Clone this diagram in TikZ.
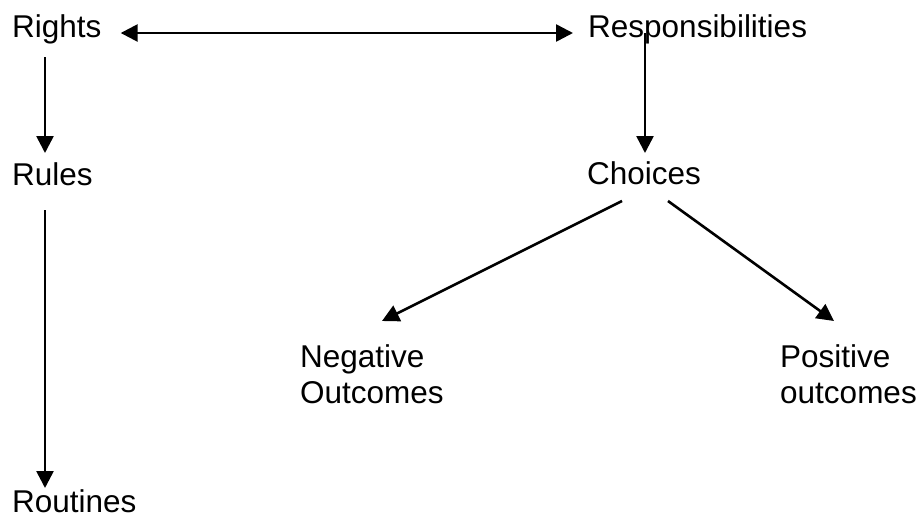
\documentclass[tikz,border=0pt]{standalone}
\usepackage{fontspec}
\setmainfont{Liberation Sans}
\usetikzlibrary{arrows.meta}

\begin{document}
\begin{tikzpicture}[x=1pt, y=-1pt,
    word/.style={anchor=base west, inner sep=0pt, align=left,
        font=\fontsize{31.5}{36}\selectfont},
    tip/.tip={Triangle[length=17pt, width=17pt]},
    arr/.style={line width=2.6pt, -tip},
    arrboth/.style={line width=2.6pt, tip-tip}]
    \useasboundingbox (0,0) rectangle (919,520);

    % 左列
    \node[word] (rights) at (12,37) {Rights};
    \node[word] (rules) at (12,185) {Rules};
    \node[word] (routines) at (12,512) {Routines};

    % 右列
    \node[word] (resp) at (588,37) {Responsibilities};
    \node[word] (choices) at (587,184) {Choices};
    \node[word] (neg) at (300,403) {Negative\\Outcomes};
    \node[word] (pos) at (780,403) {Positive\\outcomes};

    % 箭头
    \draw[arrboth] ([shift={(19,-4)}]rights.base east) -- ([shift={(-15,-4)}]resp.base west);
    \draw[arr] ([shift={(33,20)}]rights.base west) -- ([shift={(33,-32)}]rules.base west);
    \draw[arr] ([shift={(33,25)}]rules.base west) -- ([shift={(33,-24)}]routines.base west);
    \draw[arr] ([shift={(57,-4)}]resp.base west) -- ([shift={(58,-31)}]choices.base west);
    \draw[arr] ([shift={(35,17)}]choices.base west) -- ([shift={(82,-82)}]neg.base west);
    \draw[arr] ([shift={(81,17)}]choices.base west) -- ([shift={(54,-82)}]pos.base west);
\end{tikzpicture}
\end{document}
